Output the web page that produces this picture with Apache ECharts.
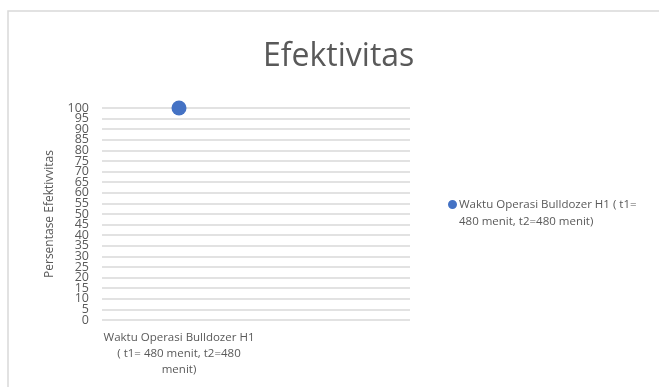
<!DOCTYPE html>
<html><head><meta charset="utf-8">
<script src="https://cdn.jsdelivr.net/npm/echarts@6/dist/echarts.min.js"></script>
<style>html,body{margin:0;padding:0;background:#fff}#c{width:659px;height:387px}</style>
</head><body><div id="c"></div>
<script>
const titleText = 'Efektivitas';
const categories = ['Waktu Operasi Bulldozer H1 ( t1= 480 menit, t2=480 menit)', ''];
const seriesName = 'Waktu Operasi Bulldozer H1 ( t1= 480 menit, t2=480 menit)';
const values = [100, null];
const yName = 'Persentase Efektivvitas';
const yMin = 0, yMax = 100, yStep = 5;

const font = 'Open Sans';
const labelStyle = { margin: 13, fontSize: 12.5, color: '#595959', hideOverlap: false };
const chart = echarts.init(document.getElementById('c'));
chart.setOption({
  animation: false,
  textStyle: { fontFamily: font },
  graphic: [{ type: 'rect', shape: { x: 8, y: 11, width: 700, height: 420 }, style: { fill: 'none', stroke: '#d9d9d9', lineWidth: 1.5 } }],
  title: { text: titleText, left: 258, top: 36, textStyle: { fontFamily: font, fontSize: 32, fontWeight: 'normal', color: '#595959' } },
  legend: {
    left: 443, top: 191, orient: 'vertical',
    icon: 'path://M0,4.5 A4.5,4.5 0 1 1 9,4.5 A4.5,4.5 0 1 1 0,4.5 Z M0,26 L9,26',
    itemWidth: 9, itemHeight: 26,
    formatter: n => n.replace('( t1= ', '( t1=\n'),
    textStyle: { fontFamily: font, fontSize: 11.5, color: '#595959', lineHeight: 17, padding: [0, 0, 0, -3] }
  },
  grid: { left: 102, right: 249, top: 108, bottom: 67 },
  xAxis: {
    type: 'category', data: categories, boundaryGap: true,
    axisLine: { show: false }, axisTick: { show: false },
    axisLabel: { interval: 0, margin: 10, fontSize: 11.5, color: '#595959', lineHeight: 16,
      formatter: v => v.replace(' ( t1', '\n( t1').replace('t2=480 ', 't2=480\n') }
  },
  yAxis: [{
    type: 'value', min: yMin, max: yMax, interval: yStep, position: 'left',
    name: yName, nameLocation: 'middle', nameGap: 46, nameTextStyle: { fontSize: 12, color: '#595959' },
    axisLine: { show: false }, axisTick: { show: false },
    axisLabel: Object.assign({ showMinLabel: false, showMaxLabel: false }, labelStyle),
    splitLine: { lineStyle: { color: '#d9d9d9', width: 1.5 } }
  }, {
    type: 'value', min: yMin, max: yMax, interval: yMax - yMin, position: 'left', offset: 0,
    axisLine: { show: false }, axisTick: { show: false }, splitLine: { show: false },
    axisLabel: labelStyle
  }],
  series: [{ name: seriesName, type: 'scatter', data: values, symbolSize: 15, itemStyle: { color: '#4472C4', opacity: 1 } }]
});
</script></body></html>
